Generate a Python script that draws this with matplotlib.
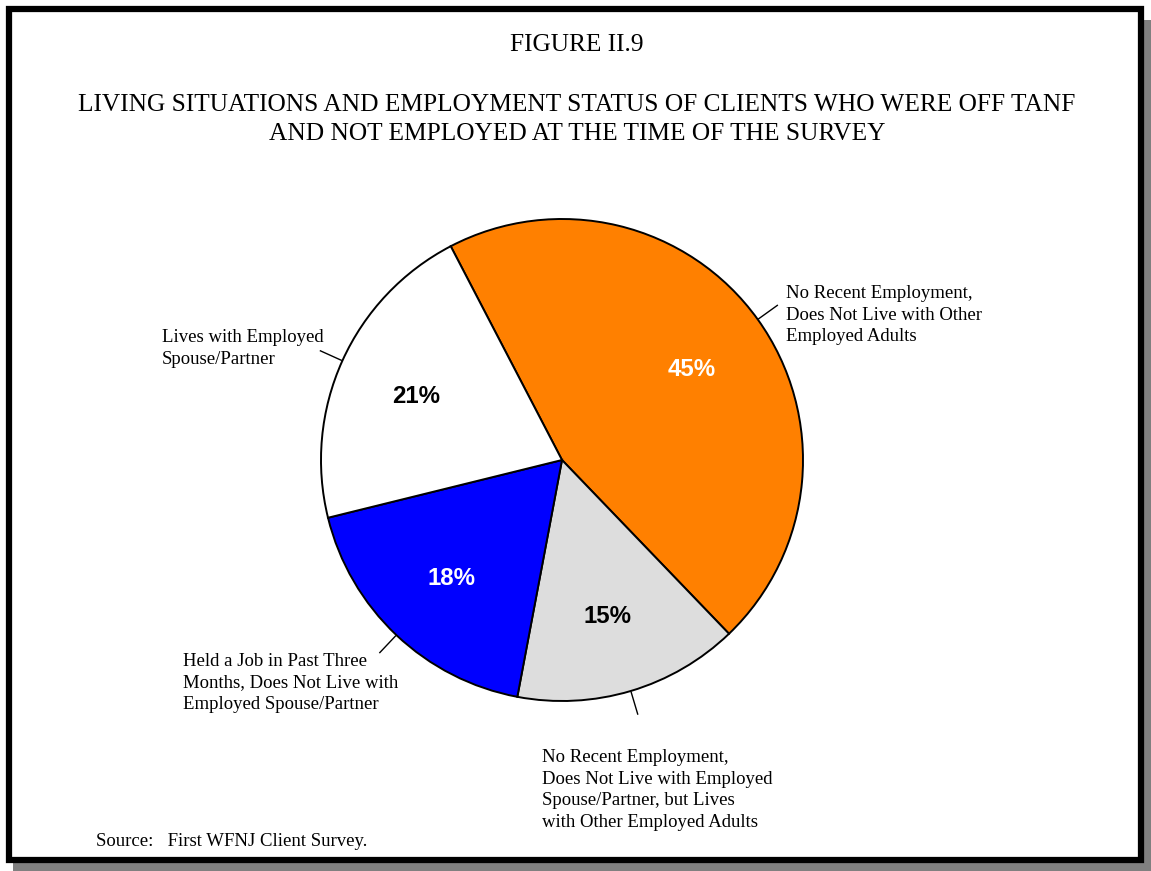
import numpy as np
import matplotlib
matplotlib.use("Agg")
import matplotlib.pyplot as plt
from matplotlib.patches import Rectangle

# Data
categories = [
    "No Recent Employment,\nDoes Not Live with Other\nEmployed Adults",
    "No Recent Employment,\nDoes Not Live with Employed\nSpouse/Partner, but Lives\nwith Other Employed Adults",
    "Held a Job in Past Three\nMonths, Does Not Live with\nEmployed Spouse/Partner",
    "Lives with Employed\nSpouse/Partner",
]
values = [45, 15, 18, 21]
colors = ["#FF8000", "#DDDDDD", "#0000FF", "#FFFFFF"]
pct_colors = ["white", "black", "white", "black"]

W, H = 1151, 871
fig = plt.figure(figsize=(W / 100, H / 100), dpi=100)
ax = fig.add_axes([0, 0, 1, 1])

def Y(y):
    return H - y

serif = ["Liberation Serif", "DejaVu Serif"]
sans = ["Liberation Sans", "DejaVu Sans"]

# Frame with drop shadow
ax.add_patch(Rectangle((13, Y(871)), 1138, 851, facecolor="#808080", edgecolor="none", zorder=0))
ax.add_patch(Rectangle((9, Y(860)), 1132, 851, facecolor="white", edgecolor="black", linewidth=4.5, zorder=1))

# Titles
title_kw = dict(ha="center", va="center_baseline", fontsize=18.3, family=serif, zorder=3)
ax.text(577, Y(43), "FIGURE II.9", **title_kw)
ax.text(577, Y(103), "LIVING SITUATIONS AND EMPLOYMENT STATUS OF CLIENTS WHO WERE OFF TANF", **title_kw)
ax.text(577, Y(131), "AND NOT EMPLOYED AT THE TIME OF THE SURVEY", **title_kw)

# Pie
cx, cy, R = 562, Y(460), 241
total = sum(values)
start = 117.5
wedges, texts, autotexts = ax.pie(
    values, colors=colors, startangle=start, counterclock=False,
    center=(cx, cy), radius=R, pctdistance=0.665,
    autopct=lambda p: f"{round(p * total / 100):.0f}%",
    wedgeprops=dict(edgecolor="black", linewidth=1.4),
    textprops=dict(fontsize=17.3, fontweight="bold", family=sans),
    frame=True,
)
for w in wedges:
    w.set_zorder(2)
for t, c in zip(autotexts, pct_colors):
    t.set_color(c)
    t.set_va("center_baseline")
    t.set_zorder(3)
ax.set_xlim(0, W)
ax.set_ylim(0, H)
ax.set_aspect("equal")
ax.axis("off")

# Category labels with leader lines
label_pos = [(786, 292), (542, 756), (183, 660), (162, 336)]
cum = 0
for v, lab, (lx, ly) in zip(values, categories, label_pos):
    mid = np.deg2rad(start - 360 * (cum + v / 2) / total)
    cum += v
    r0, r1 = R * 1.005, R * 1.10
    ax.plot([cx + r0 * np.cos(mid), cx + r1 * np.cos(mid)],
            [cy + r0 * np.sin(mid), cy + r1 * np.sin(mid)],
            color="black", linewidth=1.0, zorder=3)
    ax.text(lx, Y(ly) + 7, lab, ha="left", va="top", fontsize=13.5, family=serif,
            linespacing=1.35, zorder=3)

ax.text(96, Y(839), "Source:   First WFNJ Client Survey.", ha="left", va="center_baseline",
        fontsize=13.5, family=serif, zorder=3)

fig.savefig("out.png", dpi=100)
